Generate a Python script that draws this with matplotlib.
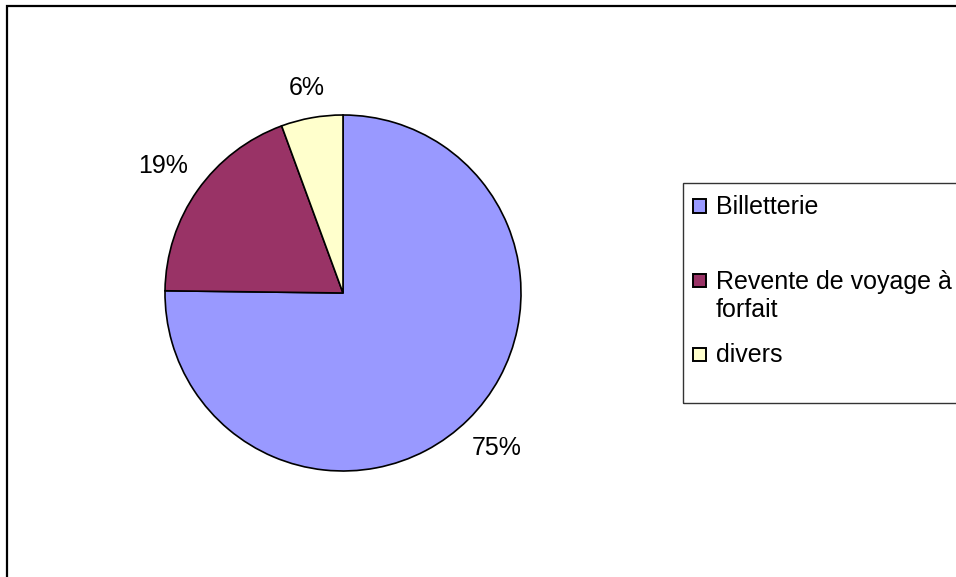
import matplotlib
matplotlib.use("Agg")
import matplotlib.pyplot as plt
from matplotlib.patches import Rectangle
import numpy as np

categories = ["Billetterie", "Revente de voyage à\nforfait", "divers"]
values = [75.2, 19.2, 5.6]
colors = ["#9999FF", "#993366", "#FFFFCC"]

plt.rcParams['font.family'] = ['Liberation Sans', 'DejaVu Sans']

W, H = 956, 577
fig = plt.figure(figsize=(W / 100, H / 100), dpi=100)

def fx(px):
    return px / W

def fy(py):
    return 1 - py / H

# outer frame
fig.patches.append(Rectangle((fx(7), fy(H + 10)), fx(W + 10) - fx(7), fy(6) - fy(H + 10),
                             transform=fig.transFigure, fill=False, edgecolor='black',
                             linewidth=1.6, zorder=0))

cx, cy, half = 343, 293, 200
R = 178
ax = fig.add_axes([fx(cx - half), fy(cy + half), 2 * half / W, 2 * half / H])
ax.axis('off')
wedges, texts, autotexts = ax.pie(values, colors=colors, radius=R, startangle=90,
                                  counterclock=False, autopct='%.0f%%', pctdistance=1.23,
                                  wedgeprops=dict(edgecolor='black', linewidth=1.2),
                                  textprops=dict(fontsize=18, color='black'))
# label distance per wedge (label boxes sit just outside the rim)
label_dist = [1.225, 1.235, 1.17]
for w, t, d in zip(wedges, autotexts, label_dist):
    ang = np.deg2rad((w.theta1 + w.theta2) / 2)
    t.set_position((d * R * np.cos(ang), d * R * np.sin(ang)))
ax.set_aspect('auto')
ax.set_xlim(-half, half)
ax.set_ylim(-half, half)

# legend box
lx0, ly0, lx1, ly1 = 683, 183, W + 10, 403
fig.patches.append(Rectangle((fx(lx0), fy(ly1)), fx(lx1) - fx(lx0), fy(ly0) - fy(ly1),
                             transform=fig.transFigure, fill=False, edgecolor='#333333',
                             linewidth=1.0))
entry_y = [206, 280, 354]
ms = 13
for lab, col, ey in zip(categories, colors, entry_y):
    fig.patches.append(Rectangle((fx(693), fy(ey + ms / 2)), ms / W, ms / H,
                                 transform=fig.transFigure, facecolor=col,
                                 edgecolor='black', linewidth=1.4))
    if '\n' in lab:
        fig.text(fx(716), fy(ey - 10), lab, fontsize=18, va='top', ha='left',
                 linespacing=1.2)
    else:
        fig.text(fx(716), fy(ey + 1), lab, fontsize=18, va='center', ha='left')

fig.savefig("out.png", dpi=100)
